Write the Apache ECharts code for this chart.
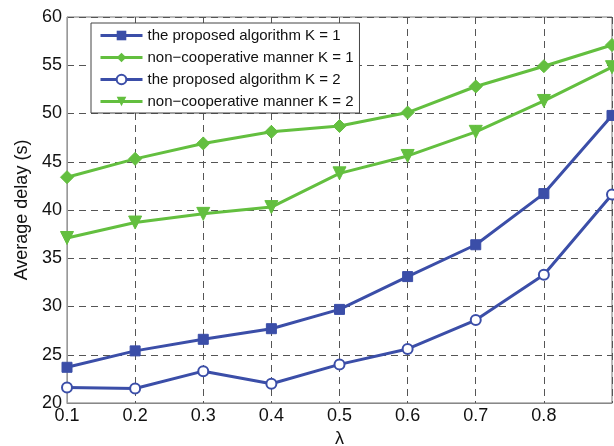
<!DOCTYPE html>
<html>
<head>
<meta charset="utf-8">
<script src="https://cdn.jsdelivr.net/npm/echarts@6/dist/echarts.min.js"></script>
<style>
html,body{margin:0;padding:0;background:#fff;}
#chart{width:614px;height:446px;}
</style>
</head>
<body>
<div id="chart"></div>
<script>
// λ values
var lambdas = [0.1, 0.2, 0.3, 0.4, 0.5, 0.6, 0.7, 0.8, 0.9];
// average delay (s)
var proposedK1 = [23.7, 25.4, 26.6, 27.7, 29.7, 33.1, 36.4, 41.7, 49.8];
var noncoopK1 = [43.4, 45.3, 46.9, 48.1, 48.7, 50.1, 52.8, 54.9, 57.1];
var proposedK2 = [21.6, 21.5, 23.3, 22.0, 24.0, 25.6, 28.6, 33.3, 41.6];
var noncoopK2 = [37.1, 38.7, 39.6, 40.3, 43.8, 45.6, 48.1, 51.3, 54.8];
var seriesNames = [
	'the proposed algorithm K = 1',
	'non\u2212cooperative manner K = 1',
	'the proposed algorithm K = 2',
	'non\u2212cooperative manner K = 2'
];

var blue = '#3b4ea8';
var green = '#63bf3f';

function pairs(ys) {
	return lambdas.map(function (x, i) { return [x, ys[i]]; });
}

function makeSeries(name, ys, color, symbol, size, extra) {
	var s = {
		name: name,
		type: 'line',
		data: pairs(ys),
		symbol: symbol,
		symbolSize: size,
		showAllSymbol: true,
		lineStyle: { color: color, width: 3 },
		itemStyle: { color: color, borderColor: color },
		z: 3
	};
	for (var k in extra) s[k] = extra[k];
	return s;
}

var chart = echarts.init(document.getElementById('chart'));
var option = {
	animation: false,
	backgroundColor: '#fff',
	textStyle: { fontFamily: 'Liberation Sans, Arial, sans-serif' },
	grid: {
		left: 67, right: 2, top: 17, bottom: 43,
		containLabel: false, outerBoundsMode: 'none',
		show: true, borderColor: '#777', borderWidth: 1
	},
	legend: {
		left: 91,
		top: 23,
		orient: 'vertical',
		data: seriesNames,
		backgroundColor: '#fff',
		borderColor: '#444',
		borderWidth: 1,
		padding: [5, 6, 4, 8],
		itemWidth: 42,
		itemHeight: 12,
		itemGap: 7,
		lineStyle: { width: 3 },
		textStyle: { fontSize: 15, color: '#111', fontFamily: 'Liberation Sans, Arial, sans-serif' }
	},
	xAxis: {
		type: 'value',
		min: 0.1,
		max: 0.9,
		interval: 0.1,
		name: 'λ',
		nameLocation: 'middle',
		nameGap: 26,
		nameTextStyle: { fontSize: 18, color: '#111' },
		axisLine: { lineStyle: { color: '#888' } },
		axisTick: { show: false },
		axisLabel: {
			fontSize: 18, color: '#111', margin: 4,
			formatter: function (v) { return v > 0.85 ? '' : v.toFixed(1); }
		},
		splitLine: { show: true, lineStyle: { color: '#555', type: [7, 5], width: 1 } }
	},
	yAxis: {
		type: 'value',
		min: 20,
		max: 60,
		interval: 5,
		name: 'Average delay (s)',
		nameLocation: 'middle',
		nameGap: 30,
		nameTextStyle: { fontSize: 18, color: '#111' },
		axisLine: { show: true, lineStyle: { color: '#999' } },
		axisTick: { show: false },
		axisLabel: { fontSize: 18, color: '#111', margin: 5 },
		splitLine: { show: true, lineStyle: { color: '#555', type: [7, 5], width: 1 } }
	},
	series: [
		makeSeries(seriesNames[0], proposedK1, blue, 'rect', 10, {}),
		makeSeries(seriesNames[1], noncoopK1, green, 'diamond', 13, {}),
		makeSeries(seriesNames[2], proposedK2, blue, 'emptyCircle', 10, { itemStyle: { color: blue, borderColor: blue, borderWidth: 2 } }),
		makeSeries(seriesNames[3], noncoopK2, green, 'triangle', 13, { symbolRotate: 180 })
	]
};
chart.setOption(option);
</script>
</body>
</html>
